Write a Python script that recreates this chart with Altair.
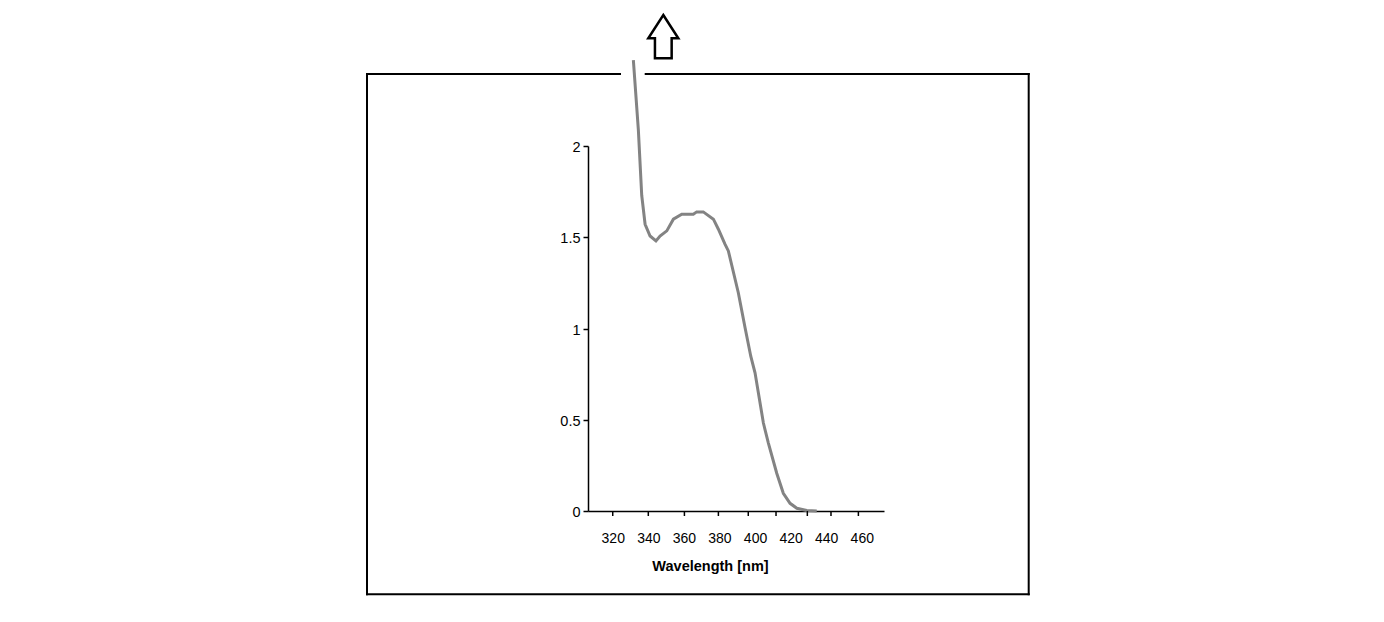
import altair as alt
import pandas as pd

# Absorbance spectrum
wavelength = [331.6, 334.4, 336.3, 338.2, 341.0, 344.3, 346.6, 350.4, 354.1, 358.8,
              365.3, 367.2, 370.9, 376.6, 379.4, 383.1, 385.0, 390.6, 394.4, 397.6,
              400.0, 404.7, 407.5, 412.2, 415.9, 419.7, 423.5, 429.1, 434.7]
absorbance = [2.47, 2.09, 1.73, 1.571, 1.507, 1.48, 1.507, 1.535, 1.599, 1.626,
              1.626, 1.639, 1.639, 1.599, 1.544, 1.462, 1.425, 1.196, 1.004, 0.848,
              0.757, 0.482, 0.372, 0.207, 0.097, 0.042, 0.015, 0.003, 0.0]

x_labels = [320, 340, 360, 380, 400, 420, 440, 460]
x_tick_marks = [320, 340, 360.3, 379.4, 396.2, 411.8, 429.4, 442.7, 458.1]
y_labels = [0, 0.5, 1, 1.5, 2]

W, H = 296, 365

df = pd.DataFrame({"wl": wavelength, "abs": absorbance})
ticks_df = pd.DataFrame({"t": x_tick_marks})
one = pd.DataFrame({"a": [0]})

xscale = alt.Scale(domain=[306.1, 472.5], nice=False, zero=False)
yscale = alt.Scale(domain=[0, 2], nice=False)

line = alt.Chart(df).mark_line(color="#838383", strokeWidth=3, clip=False).encode(
    x=alt.X("wl:Q", scale=xscale,
            axis=alt.Axis(values=x_labels, title="Wavelength [nm]", grid=False,
                          domainColor="black", domainWidth=1.5,
                          ticks=True, tickSize=5, tickOpacity=0,
                          labelFont="Liberation Sans", labelFontSize=14, labelColor="black",
                          labelBaseline="alphabetic", labelPadding=26.3, labelFlush=False,
                          titleFont="Liberation Sans", titleFontSize=14.5, titleFontWeight="bold",
                          titleColor="black", titleX=122, titleY=59, titleAlign="center",
                          titleBaseline="alphabetic")),
    y=alt.Y("abs:Q", scale=yscale,
            axis=alt.Axis(values=y_labels, title=None, grid=False, format="~g",
                          domainColor="black", domainWidth=1.5,
                          tickColor="black", tickWidth=1.5, tickSize=5,
                          labelFont="Liberation Sans", labelFontSize=14.5, labelColor="black",
                          labelPadding=3, labelOffset=1.5, labelFlush=False)),
)

xticks = alt.Chart(ticks_df).mark_rule(color="black", strokeWidth=1.5).encode(
    x=alt.X("t:Q", scale=xscale),
    y=alt.value(H),
    y2=alt.value(H + 5),
)

frame_color = "black"
fw = 2
L, R, T, B = -221, 440.7, -72, 448.3

def hrule(x1, x2, y):
    return alt.Chart(one).mark_rule(color=frame_color, strokeWidth=fw, strokeCap="square").encode(
        x=alt.value(x1), x2=alt.value(x2), y=alt.value(y))

def vrule(x, y1, y2):
    return alt.Chart(one).mark_rule(color=frame_color, strokeWidth=fw, strokeCap="square").encode(
        x=alt.value(x), y=alt.value(y1), y2=alt.value(y2))

frame = [
    hrule(L, 32, T), hrule(57.7, R, T), hrule(L, R, B),
    vrule(L, T, B), vrule(R, T, B),
]

arrow_path = "M0,-1 L0.693,0.074 L0.386,0.074 L0.386,1 L-0.386,1 L-0.386,0.074 L-0.693,0.074 Z"
arrow = alt.Chart(one).mark_point(shape=arrow_path, size=1875, filled=True, fill="white",
                                  stroke="black", strokeWidth=2.5, opacity=1).encode(
    x=alt.value(75.3), y=alt.value(-109.3))

chart = alt.layer(line, xticks, *frame, arrow).properties(
    width=W, height=H,
    autosize=alt.AutoSizeParams(type="none"),
    padding={"left": 588, "top": 146, "right": 1384 - 588 - W, "bottom": 622 - 146 - H},
    background="white",
).configure_view(stroke=None)

chart.save("out.html", embed_options={"renderer": "svg", "actions": False})
